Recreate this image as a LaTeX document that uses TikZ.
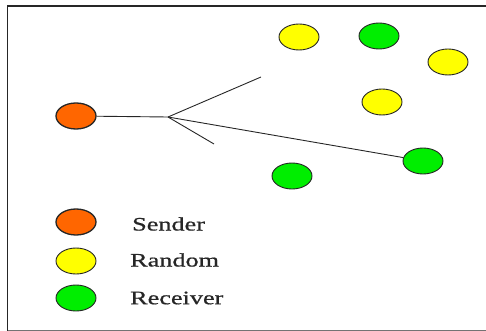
\documentclass[tikz,border=0pt]{standalone}
\usepackage{fontspec}
\newfontfamily\lblfont[FakeStretch=1.38,FakeBold=0.8]{Liberation Serif}
\usetikzlibrary{shapes.geometric}
\definecolor{sendc}{RGB}{255,102,0}
\definecolor{randc}{RGB}{255,255,0}
\definecolor{recvc}{RGB}{0,238,0}
\tikzset{
  nd/.style={ellipse, draw=black!85, line width=0.9pt, minimum width=40pt, minimum height=26pt, inner sep=0pt},
  sendnd/.style={nd, fill=sendc, line width=1.3pt},
  randnd/.style={nd, fill=randc},
  recvnd/.style={nd, fill=recvc},
  lbl/.style={anchor=west, inner sep=0pt, font=\lblfont\fontsize{19}{21}\selectfont, text=black!85},
  link/.style={draw=black!85, line width=0.9pt}
}
\begin{document}
\begin{tikzpicture}[x=1pt,y=-1pt]
\useasboundingbox (0,0) rectangle (486,331);
\draw[line width=1.8pt, black!85] (7.5,331) -- (7.5,6) -- (486,6);
\draw[line width=1pt, black!55] (7.5,330.5) -- (486,330.5);
% nodes
\node[sendnd] (s) at (76,116) {};
\node[randnd] (y1) at (299,37) {};
\node[recvnd] (g1) at (379,36) {};
\node[randnd] (y2) at (448,62) {};
\node[randnd] (y3) at (382,102) {};
\node[recvnd] (g2) at (423,161) {};
\node[recvnd] (g3) at (292,176) {};
\coordinate (j) at (168,117);
\coordinate (b1) at (261,77);
\coordinate (b2) at (214,144);
\draw[link] (s) -- (j);
\draw[link] (j) -- (b1);
\draw[link] (j) -- (b2);
\draw[link] (j) -- (g2);
% legend
\node[sendnd] (ls) at (76,222) {};
\node[randnd] (lr) at (76,261) {};
\node[recvnd] (lg) at (76,298) {};
\node[lbl] (ts) at (132,224) {Sender};
\node[lbl] (tr) at (130,260) {Random};
\node[lbl] (tg) at (130,298) {Receiver};
\end{tikzpicture}
\end{document}
